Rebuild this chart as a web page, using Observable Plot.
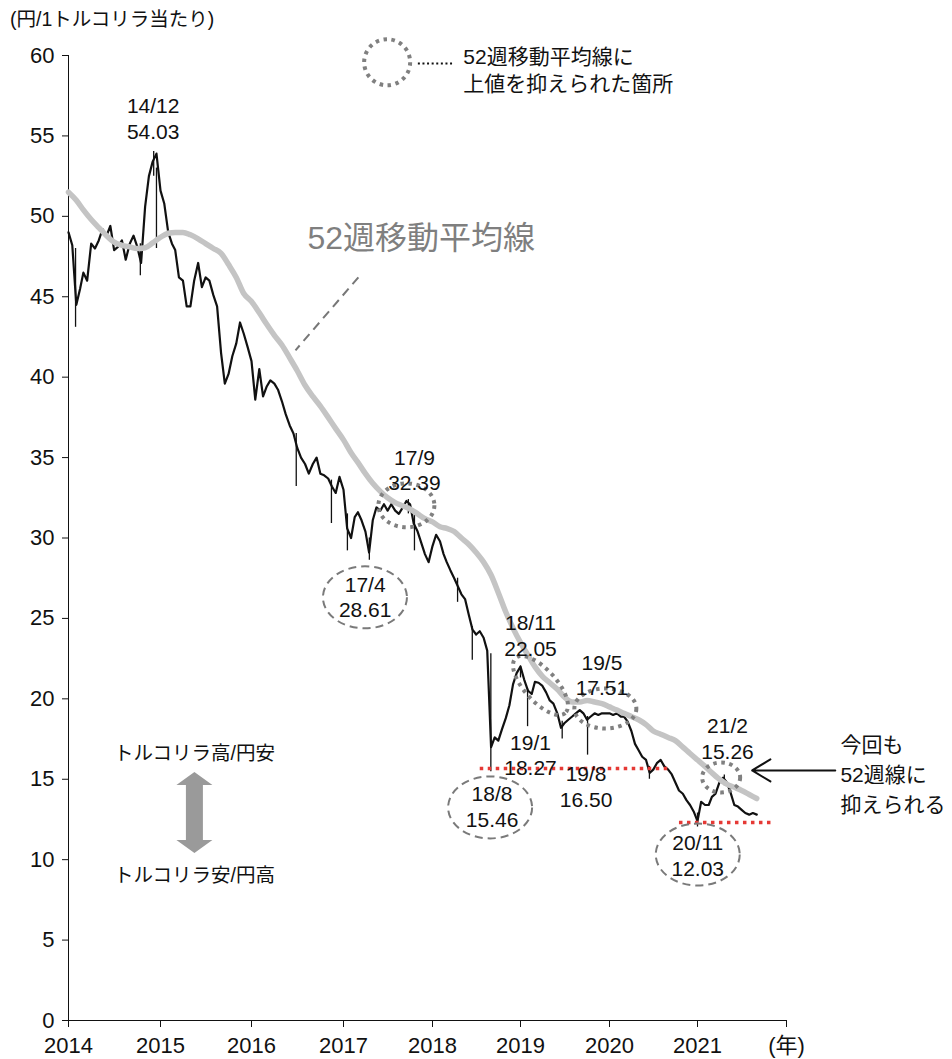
<!DOCTYPE html>
<html><head><meta charset="utf-8">
<script src="https://cdn.jsdelivr.net/npm/d3@7"></script>
<script src="https://cdn.jsdelivr.net/npm/@observablehq/plot@0.6"></script>
<style>
body{margin:0;background:#fff;}
#wrap{position:relative;width:952px;height:1059px;}
#title{position:absolute;left:10px;top:10px;font-size:19.5px;line-height:1;font-family:"Liberation Sans","Noto Sans CJK JP",sans-serif;color:#111;}
</style></head><body>
<div id="wrap"><div id="title">(円/1トルコリラ当たり)</div></div>
<script>
// ---- data: TRY/JPY, half-monthly closes (1st & 16th of each month) ----
const priceYears = [2014, 2015, 2016, 2017, 2018, 2019, 2020, 2021];
const price2014 = [49.0, 48.2, 44.5, 45.5, 46.5, 46.0, 48.3, 48.0, 48.5, 49.2, 48.8, 49.4, 47.9, 48.1, 48.5, 47.3, 48.3, 48.8, 48.1, 47.1, 50.6, 52.5, 53.4, 53.9];
const price2015 = [51.6, 50.8, 49.0, 48.3, 47.9, 46.2, 46.0, 44.4, 44.4, 46.0, 47.1, 45.6, 46.2, 46.0, 45.1, 44.4, 41.5, 39.6, 40.2, 41.3, 42.1, 43.4, 42.7, 41.9];
const price2016 = [41.0, 38.6, 40.5, 38.8, 39.4, 39.8, 39.6, 39.2, 38.5, 37.7, 37.0, 36.5, 35.6, 35.0, 34.6, 34.0, 34.6, 35.0, 34.0, 33.9, 33.7, 33.2, 32.8, 33.8];
const price2017 = [33.0, 30.6, 30.0, 31.3, 31.6, 31.1, 30.4, 29.1, 31.1, 31.9, 31.7, 32.1, 31.7, 32.1, 31.7, 31.5, 31.9, 32.3, 32.1, 30.9, 30.4, 29.7, 29.0, 28.5];
const price2018 = [29.5, 30.2, 29.8, 29.0, 28.5, 28.0, 27.5, 27.0, 26.5, 26.2, 25.2, 24.3, 24.0, 24.2, 23.8, 23.0, 17.0, 17.6, 17.4, 18.1, 18.8, 19.6, 20.9, 21.6];
const price2019 = [22.0, 21.2, 20.5, 20.3, 21.05, 21.0, 20.8, 20.4, 19.9, 19.7, 19.1, 18.2, 18.5, 18.7, 18.9, 19.1, 19.3, 19.1, 18.7, 18.9, 19.1, 19.0, 19.1, 19.1];
const price2020 = [19.1, 19.0, 19.1, 18.9, 18.9, 18.6, 18.0, 17.2, 16.8, 16.4, 16.2, 15.4, 15.6, 16.0, 16.2, 15.8, 15.6, 15.3, 14.8, 14.3, 14.1, 13.7, 13.4, 13.0];
const price2021 = [12.4, 13.6, 13.4, 13.4, 13.9, 14.1, 14.8, 15.1, 14.8, 14.2, 13.4, 13.3, 13.1, 12.9, 12.8, 12.9, 12.8];

// weekly high/low spikes: date, low, high
const wickDates = ["2014-01-29","2014-10-13","2014-12-05","2014-12-16","2016-06-27","2016-11-14","2017-01-17","2017-04-17","2017-09-24","2017-10-19","2018-04-15","2018-06-15","2018-08-31","2019-01-01","2019-01-30","2019-06-21","2019-10-03","2020-06-15","2021-01-01","2021-04-21"];
const wickLow  = [43.1, 46.3, 52.5, 48.0, 33.2, 30.9, 29.2, 28.61, 31.5, 29.2, 26.0, 22.4, 15.46, 21.3, 18.27, 17.51, 16.50, 15.0, 12.03, 14.6];
const wickHigh = [48.0, 48.3, 54.03, 53.0, 36.5, 33.6, 31.5, 30.0, 32.39, 31.5, 27.5, 24.5, 22.8, 22.05, 20.6, 18.6, 18.9, 15.8, 12.9, 15.26];

// 52-week moving average, monthly (1st of month)
const ma2014 = [51.5, 51.0, 50.4, 49.8, 49.3, 48.8, 48.4, 48.2, 48.1, 48.0, 48.05, 48.35];
const ma2015 = [48.7, 48.95, 49.0, 49.0, 48.85, 48.6, 48.3, 48.0, 47.7, 47.0, 46.2, 45.2];
const ma2016 = [44.7, 44.0, 43.3, 42.6, 42.0, 41.2, 40.4, 39.5, 38.8, 38.2, 37.5, 36.8];
const ma2017 = [36.1, 35.3, 34.7, 34.0, 33.4, 32.9, 32.5, 32.2, 32.0, 31.8, 31.5, 31.2];
const ma2018 = [31.0, 30.7, 30.6, 30.4, 30.0, 29.6, 29.1, 28.5, 27.7, 26.6, 25.4, 24.4];
const ma2019 = [23.5, 22.7, 22.0, 21.4, 21.0, 20.6, 20.1, 19.8, 19.8, 19.9, 19.8, 19.7];
const ma2020 = [19.5, 19.3, 19.1, 18.9, 18.7, 18.4, 18.0, 17.8, 17.6, 17.4, 17.0, 16.6];
const ma2021 = [16.2, 15.8, 15.4, 15.0, 14.7, 14.5, 14.3, 14.05, 13.8];

// axis ticks
const xTickYears = [2014, 2015, 2016, 2017, 2018, 2019, 2020, 2021, 2022];
const xTickLabels = ["2014", "2015", "2016", "2017", "2018", "2019", "2020", "2021", "(年)"];
const yTicks = [0, 5, 10, 15, 20, 25, 30, 35, 40, 45, 50, 55, 60];

// callouts
const calloutText  = ["14/12\n54.03", "17/9\n32.39", "17/4\n28.61", "18/11\n22.05", "18/8\n15.46", "19/1\n18.27", "19/8\n16.50", "19/5\n17.51", "21/2\n15.26", "20/11\n12.03"];
const calloutDate  = ["2014-12-03", "2017-10-19", "2017-03-31", "2019-02-11", "2018-09-05", "2019-02-11", "2019-09-27", "2019-12-01", "2021-05-04", "2021-01-02"];
const calloutValue = [56.13, 34.27, 26.37, 24.0, 13.34, 16.54, 14.58, 21.52, 17.57, 10.29];

// places where the 52-week line capped the rate (dotted) and lows (dashed)
const cappedDate  = ["2017-09-16", "2019-03-24", "2019-12-15", "2021-04-08"];
const cappedValue = [32.03, 20.83, 19.40, 15.11];
const lowDate  = ["2017-03-30", "2018-08-28", "2021-01-02"];
const lowValue = [26.31, 13.25, 10.32];

// support lines at the lows
const supportValue = [15.67, 12.31];
const supportFrom  = ["2018-07-18", "2020-10-18"];
const supportTo    = ["2020-09-02", "2021-11-16"];

// other texts
const maLabel = "52週移動平均線";
const legendText = "52週移動平均線に\n上値を抑えられた箇所";
const upText = "トルコリラ高/円安";
const downText = "トルコリラ安/円高";
const commentText = "今回も\n52週線に\n抑えられる";

// ---- build tables ----
const utc = (y, m, d) => new Date(Date.UTC(y, m, d));
const priceArrays = [price2014, price2015, price2016, price2017, price2018, price2019, price2020, price2021];
const maArrays = [ma2014, ma2015, ma2016, ma2017, ma2018, ma2019, ma2020, ma2021];
const price = priceArrays.flatMap((arr, k) => arr.map((v, i) => ({date: utc(priceYears[k], Math.floor(i / 2), i % 2 ? 16 : 1), value: v})));
const ma = maArrays.flatMap((arr, k) => arr.map((v, i) => ({date: utc(priceYears[k], i, 1), value: v})));
const wicks = wickDates.map((d, i) => ({date: new Date(d), low: wickLow[i], high: wickHigh[i]}));
const callouts = calloutText.map((t, i) => ({text: t, date: new Date(calloutDate[i]), value: calloutValue[i]}));
const capped = cappedDate.map((d, i) => ({date: new Date(d), value: cappedValue[i]}));
const lows = lowDate.map((d, i) => ({date: new Date(d), value: lowValue[i]}));
const supports = supportValue.map((v, i) => ({value: v, x1: new Date(supportFrom[i]), x2: new Date(supportTo[i])}));

// ---- styles: ellipse shapes in px ----
const cappedShapes = [{rx: 28, ry: 22, rot: 0}, {rx: 37, ry: 16, rot: 48}, {rx: 31, ry: 20, rot: 0}, {rx: 19, ry: 15, rot: 0}];
const lowShapes = [{rx: 42, ry: 31, rot: 0}, {rx: 42, ry: 31, rot: 0}, {rx: 42, ry: 31, rot: 0}];

function ellipseSymbol({rx, ry, rot}) {
  const k = 0.5523, a = rot * Math.PI / 180, c = Math.cos(a), s = Math.sin(a);
  const P = (x, y) => [x * c - y * s, x * s + y * c];
  return {
    draw(ctx) {
      const pts = [
        [[rx, k * ry], [k * rx, ry], [0, ry]],
        [[-k * rx, ry], [-rx, k * ry], [-rx, 0]],
        [[-rx, -k * ry], [-k * rx, -ry], [0, -ry]],
        [[k * rx, -ry], [rx, -k * ry], [rx, 0]]
      ];
      ctx.moveTo(...P(rx, 0));
      for (const [p1, p2, p3] of pts) ctx.bezierCurveTo(...P(...p1), ...P(...p2), ...P(...p3));
      ctx.closePath();
    }
  };
}

const doubleArrow = {
  draw(ctx) {
    const H = 40.5, hw = 18, hh = 13, sw = 8.5;
    ctx.moveTo(0, -H); ctx.lineTo(hw, -H + hh); ctx.lineTo(sw, -H + hh); ctx.lineTo(sw, H - hh);
    ctx.lineTo(hw, H - hh); ctx.lineTo(0, H); ctx.lineTo(-hw, H - hh); ctx.lineTo(-sw, H - hh);
    ctx.lineTo(-sw, -H + hh); ctx.lineTo(-hw, -H + hh); ctx.closePath();
  }
};

const font = "'Liberation Sans','Noto Sans CJK JP',sans-serif";
const yearDates = xTickYears.map(y => utc(y, 0, 1));

const chart = Plot.plot({
  width: 952,
  height: 1059,
  marginLeft: 68,
  marginRight: 166,
  marginTop: 55,
  marginBottom: 39,
  style: {fontFamily: font, fontSize: "22px", color: "#111", background: "white", overflow: "visible"},
  x: {
    type: "utc",
    domain: yearDates,
    range: [68, 160, 251, 343, 432, 520, 609, 697, 786],
    ticks: yearDates,
    tickFormat: d => xTickLabels[xTickYears.indexOf(d.getUTCFullYear())],
    tickSize: 7,
    tickPadding: 10,
    line: true,
    label: null
  },
  y: {domain: [0, 60], ticks: yTicks, tickSize: 6, tickPadding: 8, line: true, label: null},
  marks: [
    Plot.ruleX(wicks, {x: "date", y1: "low", y2: "high", stroke: "#111", strokeWidth: 1.3}),
    Plot.line(price, {x: "date", y: "value", stroke: "#111", strokeWidth: 2.2}),
    Plot.line(ma, {x: "date", y: "value", stroke: "#c4c4c4", strokeWidth: 5.5, curve: "monotone-x"}),
    Plot.ruleY(supports, {y: "value", x1: "x1", x2: "x2", stroke: "#e53935", strokeWidth: 3.5, strokeDasharray: "3.5 4.5"}),
    Plot.link([{x1: new Date("2017-03-03"), y1: 46.21, x2: new Date("2016-06-24"), y2: 41.67}], {x1: "x1", y1: "y1", x2: "x2", y2: "y2", stroke: "#777", strokeWidth: 2, strokeDasharray: "9 6"}),
    ...capped.map((d, i) => Plot.dot([d], {x: "date", y: "value", symbol: ellipseSymbol(cappedShapes[i]), fill: "none", stroke: "#808080", strokeWidth: 4, strokeDasharray: "3.5 4.5"})),
    ...lows.map((d, i) => Plot.dot([d], {x: "date", y: "value", symbol: ellipseSymbol(lowShapes[i]), fill: "none", stroke: "#7a7a7a", strokeWidth: 2, strokeDasharray: "8 5"})),
    // legend
    Plot.dot([{date: new Date("2017-06-29"), value: 59.58}], {x: "date", y: "value", r: 23, fill: "none", stroke: "#808080", strokeWidth: 4, strokeDasharray: "3.5 4.5"}),
    Plot.ruleY([{value: 59.5, x1: new Date("2017-11-04"), x2: new Date("2018-04-05")}], {y: "value", x1: "x1", x2: "x2", stroke: "#111", strokeWidth: 2, strokeDasharray: "2 2.6"}),
    Plot.text([legendText], {x: () => new Date("2018-05-09"), y: () => 59.17, text: d => d, textAnchor: "start", fontSize: 21, lineHeight: 1.29, fill: "#111"}),
    // callouts
    Plot.text(callouts, {x: "date", y: "value", text: "text", fontSize: 21, lineHeight: 1.22, fill: "#111"}),
    Plot.text([maLabel], {x: () => new Date("2017-11-16"), y: () => 48.6, text: d => d, fontSize: 32, fill: "#7f7f7f"}),
    Plot.text([upText], {x: () => new Date("2015-05-17"), y: () => 16.6, text: d => d, fontSize: 19.5, fill: "#111"}),
    Plot.text([downText], {x: () => new Date("2015-05-17"), y: () => 9.02, text: d => d, fontSize: 19.5, fill: "#111"}),
    Plot.dot([{date: new Date("2015-05-17"), value: 12.94}], {x: "date", y: "value", symbol: doubleArrow, fill: "#9a9a9a", stroke: "none"}),
    Plot.arrow([{x1: new Date("2022-07-20"), x2: new Date("2021-08-13"), y: 15.55}], {x1: "x1", x2: "x2", y1: "y", y2: "y", stroke: "#111", strokeWidth: 2, headLength: 16, headAngle: 62}),
    Plot.text([commentText], {x: () => new Date("2022-08-10"), y: () => 15.42, text: d => d, textAnchor: "start", fontSize: 21, lineHeight: 1.43, fill: "#111"})
  ]
});

const wrap = document.getElementById("wrap");
wrap.insertBefore(chart, wrap.firstChild);
</script>
</body></html>
